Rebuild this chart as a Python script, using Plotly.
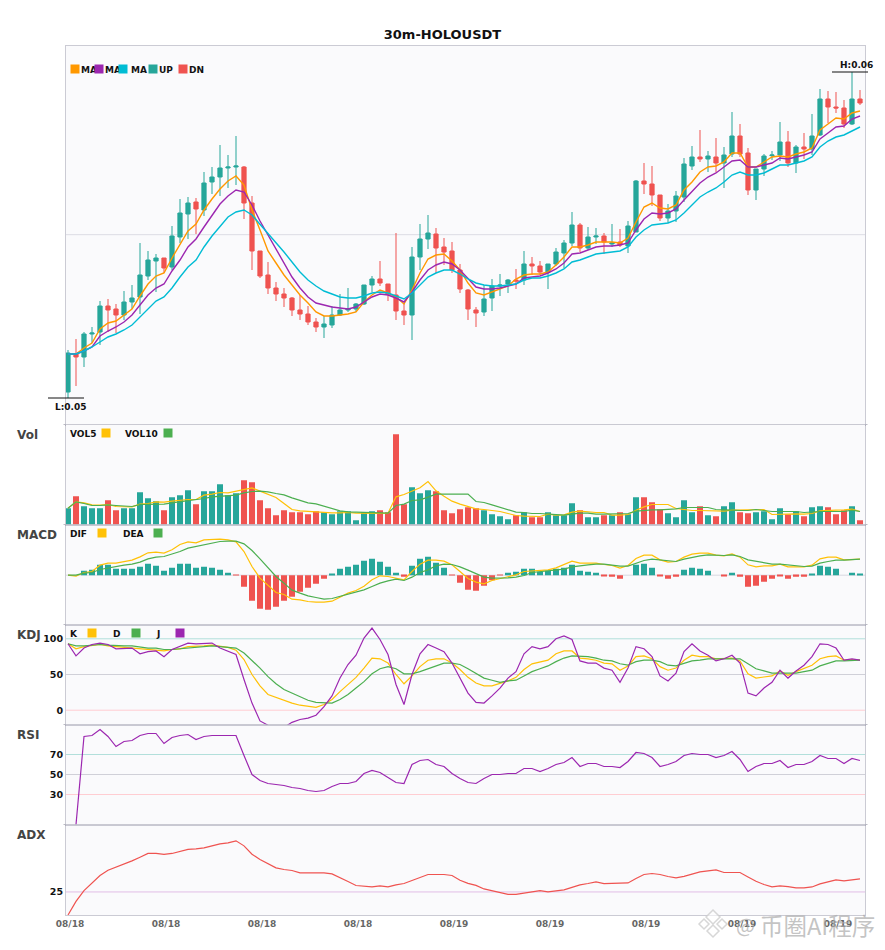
import plotly.graph_objects as go
from plotly.subplots import make_subplots

FIG_WIDTH = 885
FIG_HEIGHT = 950
LEFT, RIGHT, TOP, BOTTOM = 66, 865, 46, 915

UP_COLOR = "#26a69a"
DOWN_COLOR = "#ef5350"
YELLOW = "#ffc107"
GREEN = "#4caf50"
PURPLE = "#9c27b0"
FONT = "DejaVu Sans"

# prices are in 1e-5 USDT
opens = [5028,5142,5133,5202,5208,5286,5277,5259,5298,5313,5376,5421,5430,5403,5493,5562,5598,5574,5658,5673,
         5700,5703,5703,5595,5451,5379,5340,5322,5310,5274,5262,5238,5223,5229,5259,5274,5277,5292,5349,5367,
         5352,5319,5271,5259,5433,5487,5502,5463,5451,5394,5334,5274,5268,5310,5346,5352,5364,5364,5412,5406,
         5388,5412,5445,5475,5529,5460,5493,5496,5472,5478,5466,5508,5661,5652,5619,5550,5571,5613,5706,5733,
         5727,5733,5715,5742,5796,5745,5634,5697,5737,5739,5778,5715,5763,5757,5799,5907,5883,5880,5832,5907]
highs = [5154,5187,5208,5223,5301,5307,5292,5331,5349,5475,5451,5442,5430,5526,5607,5613,5610,5688,5703,5769,
         5739,5796,5706,5616,5451,5418,5358,5340,5313,5319,5286,5250,5256,5286,5322,5340,5295,5349,5376,5421,
         5352,5505,5295,5463,5532,5559,5520,5490,5478,5412,5337,5283,5349,5367,5382,5367,5397,5451,5433,5421,
         5412,5460,5484,5568,5535,5523,5520,5505,5532,5517,5541,5664,5715,5706,5619,5592,5631,5730,5766,5814,
         5751,5790,5763,5868,5832,5760,5697,5742,5751,5838,5811,5769,5805,5862,5937,5931,5928,5904,5988,5934]
lows = [5010,5046,5103,5175,5169,5208,5205,5244,5277,5262,5364,5328,5385,5394,5475,5487,5502,5556,5622,5616,
        5640,5649,5547,5394,5370,5322,5301,5283,5256,5244,5229,5208,5190,5220,5256,5268,5268,5289,5328,5346,
        5301,5244,5229,5184,5394,5457,5385,5409,5385,5325,5244,5223,5256,5271,5316,5325,5337,5349,5379,5379,
        5337,5406,5400,5466,5448,5454,5472,5442,5463,5463,5445,5508,5622,5586,5541,5535,5538,5598,5694,5718,
        5688,5688,5640,5733,5733,5619,5604,5676,5724,5721,5703,5685,5727,5739,5796,5835,5865,5820,5829,5889]
closes = [5145,5133,5202,5205,5286,5274,5259,5298,5310,5379,5424,5430,5400,5496,5565,5595,5577,5655,5673,5700,
          5703,5706,5595,5451,5376,5340,5322,5310,5274,5262,5238,5223,5232,5259,5274,5277,5292,5349,5367,5355,
          5322,5271,5259,5433,5487,5505,5460,5448,5394,5337,5277,5265,5307,5346,5349,5364,5361,5412,5406,5388,
          5412,5448,5475,5529,5460,5493,5496,5478,5475,5469,5526,5661,5652,5619,5550,5571,5616,5712,5733,5727,
          5736,5715,5739,5796,5742,5634,5697,5736,5739,5778,5715,5763,5757,5796,5907,5883,5880,5832,5907,5895]
ma_fast = [5142,5142,5160,5175,5217,5235,5241,5259,5277,5316,5352,5376,5385,5430,5469,5511,5532,5574,5607,5637,
           5661,5676,5649,5574,5514,5451,5415,5379,5349,5319,5295,5268,5256,5256,5259,5262,5268,5298,5319,5334,
           5325,5313,5292,5334,5385,5427,5439,5442,5421,5394,5355,5325,5319,5328,5337,5346,5367,5379,5382,5382,
           5388,5409,5433,5463,5463,5469,5478,5478,5478,5475,5490,5538,5583,5595,5580,5577,5589,5634,5658,5688,
           5703,5706,5718,5745,5745,5703,5703,5718,5733,5736,5733,5742,5748,5760,5814,5832,5850,5847,5865,5871]
ma_mid = [5142,5142,5151,5163,5196,5211,5223,5238,5259,5289,5319,5340,5352,5391,5424,5463,5487,5523,5559,5592,
          5616,5634,5628,5589,5541,5499,5454,5415,5373,5340,5313,5295,5289,5283,5280,5277,5283,5298,5313,5322,
          5319,5310,5298,5328,5364,5394,5409,5418,5412,5394,5370,5343,5337,5337,5340,5346,5352,5370,5373,5376,
          5385,5397,5415,5442,5445,5454,5463,5466,5466,5469,5475,5514,5547,5565,5562,5565,5577,5604,5631,5655,
          5673,5685,5703,5721,5724,5703,5703,5709,5715,5730,5727,5733,5739,5748,5787,5805,5823,5826,5847,5856]
ma_slow = [5142,5142,5151,5163,5178,5193,5202,5214,5229,5253,5280,5301,5313,5340,5373,5403,5424,5463,5496,5526,
           5553,5568,5574,5559,5532,5505,5475,5448,5418,5388,5364,5346,5331,5322,5313,5310,5310,5316,5325,5328,
           5325,5316,5307,5325,5349,5373,5385,5394,5394,5382,5367,5355,5349,5346,5346,5349,5352,5364,5370,5370,
           5376,5385,5397,5418,5424,5433,5442,5445,5448,5451,5463,5493,5514,5529,5532,5535,5544,5565,5589,5613,
           5628,5640,5658,5679,5688,5679,5679,5685,5697,5709,5709,5715,5721,5733,5763,5781,5793,5799,5811,5823]

volume = [49,85,55,49,49,73,43,49,49,97,79,70,43,82,88,103,61,100,100,121,
          88,94,133,127,73,49,28,43,37,37,31,40,37,31,40,40,13,37,40,43,
          37,271,61,112,94,103,100,43,34,46,52,49,43,31,25,16,28,37,22,22,
          37,28,28,64,43,22,22,28,28,37,31,82,82,67,46,34,22,73,37,55,
          28,25,55,67,37,34,37,40,16,49,31,40,25,52,55,52,31,43,55,13]
vol5 = [49,68,65,59,58,60,54,53,53,61,63,68,67,70,73,75,75,88,91,96,
        95,100,106,110,100,91,81,63,45,41,39,37,37,35,35,36,34,33,32,33,
        34,83,90,100,110,129,101,85,70,61,53,47,45,43,39,33,27,25,24,24,
        31,28,29,37,40,37,36,36,28,28,30,43,53,60,60,60,48,45,42,42,
        42,41,40,43,43,43,43,45,30,31,32,32,31,33,41,43,43,44,46,39]
vol10 = [49,68,63,57,57,59,57,56,54,60,61,61,61,65,68,70,73,78,83,84,
         85,88,95,99,100,98,93,89,80,73,65,62,55,47,41,38,37,35,35,34,
         34,57,61,72,74,82,91,91,91,91,91,69,66,59,51,43,37,36,33,33,
         32,30,28,31,34,34,31,31,31,32,33,40,43,44,44,45,47,51,51,51,
         51,45,43,43,42,42,45,41,39,39,39,39,36,38,39,39,39,39,43,39]

macd_hist = [0,0,13,16,31,31,19,19,19,25,34,28,13,22,34,34,22,25,22,16,
             7,-1,-35,-77,-101,-104,-95,-77,-65,-50,-38,-26,-11,4,19,25,31,43,49,40,
             25,7,-5,28,49,55,37,22,-1,-23,-44,-47,-32,-15,-1,7,10,19,19,10,
             13,19,22,31,13,10,7,-2,-5,-11,0,31,34,22,-2,-11,-5,16,22,19,
             13,0,-2,7,-5,-35,-32,-20,-11,-2,-11,-5,-5,4,28,25,19,0,7,4]
dif = [0,-3,8,11,30,36,36,41,45,55,67,69,66,76,92,100,97,106,108,108,
       106,100,71,26,-9,-31,-52,-58,-72,-74,-79,-81,-81,-78,-66,-54,-46,-33,-14,-2,
       -4,-9,-14,11,33,45,45,42,31,11,-10,-21,-26,-16,-10,-4,1,11,13,14,
       16,22,31,42,36,36,36,32,29,21,29,50,60,60,46,39,41,54,63,66,
       66,60,58,64,54,31,25,28,28,33,25,25,25,30,49,54,54,46,48,48]
dea = [0,0,6,8,17,22,26,30,33,39,49,54,56,63,71,81,86,91,95,101,
       102,102,94,74,49,21,-4,-24,-45,-54,-62,-67,-72,-70,-64,-58,-52,-44,-34,-24,
       -17,-12,-16,-6,8,16,28,33,32,25,15,4,-6,-9,-9,-8,-6,-1,8,10,
       12,14,18,25,29,31,33,33,30,27,27,36,44,48,46,43,41,48,54,58,
       61,60,59,61,56,46,41,36,33,33,30,27,26,27,36,41,45,45,46,48]

kdj_k = [93,86,89,91,92,90,89,89,87,86,86,85,83,85,86,89,89,90,91,90,
         88,84,71,50,34,22,18,13,10,7,6,4,8,15,26,36,46,59,73,72,
         66,50,37,48,61,70,72,72,66,57,46,38,34,34,37,41,46,57,65,68,
         70,79,83,83,73,72,70,66,65,56,62,75,76,72,61,56,59,70,77,75,
         75,72,72,73,69,51,45,46,48,55,49,54,58,63,72,75,76,70,71,70]
kdj_d = [93,90,90,91,92,91,90,90,90,88,87,87,85,85,86,87,87,89,90,89,
         88,87,80,70,59,47,37,29,24,18,14,11,10,10,15,22,31,40,51,58,
         61,58,51,51,54,58,62,66,66,64,58,51,45,42,39,41,42,48,54,58,
         62,68,73,76,76,75,73,70,69,65,63,68,70,70,68,63,62,65,69,70,
         72,72,72,72,72,65,58,55,52,52,52,52,54,56,62,66,69,69,70,70]
kdj_j = [93,76,87,92,94,92,86,87,87,79,82,83,75,85,89,94,93,94,94,87,
         83,78,43,10,-15,-21,-24,-24,-17,-13,-11,-7,5,20,45,64,77,101,115,99,
         78,36,8,50,79,92,87,82,66,45,24,11,10,20,31,45,54,79,89,86,
         89,100,104,99,69,66,66,59,56,39,59,89,86,75,48,41,52,82,93,83,
         77,69,72,77,66,24,20,31,39,56,45,55,63,75,93,92,87,70,72,70]

rsi = [None,0,88,89,95,88,78,83,84,89,91,91,81,87,89,90,85,88,89,89,
       89,89,69,50,44,41,40,39,37,36,34,33,34,38,41,41,43,51,54,52,
       47,42,41,60,64,65,60,58,51,46,42,41,46,50,50,51,51,56,56,53,
       56,60,62,67,58,61,61,58,58,57,63,72,71,67,58,60,63,69,71,70,
       70,67,69,73,65,53,58,61,61,64,57,60,60,63,69,66,66,61,66,64]
adx = [13.5,20.3,25.7,29.5,33.2,35.8,37.3,39.2,40.5,42.3,44.2,44.2,43.7,44.2,45.2,46.2,46.5,47,48,49,
       49.5,50.5,48,43.8,41.2,39.2,37,36.2,35.7,34.5,34.5,34.5,34.5,34,32.3,30.2,28.2,28,27.5,28,
       27.5,28.5,29.2,30.7,32.2,33.7,33.7,33.7,33.2,30.8,29.3,28.3,26.5,25.5,24.5,23.8,23.8,24.5,25.2,25.7,
       25,25.5,26,27.3,28.5,29.2,30,29.2,29.2,29.2,29.5,31.7,33.7,34.2,33.7,32.7,32,32.8,34,35,
       35.5,36,34.7,34.7,34.7,32.5,30.3,28.7,27.5,28,27.7,27,27,27.5,29,30,31,30.5,31,31.5]

tick_index = [0, 12, 24, 36, 48, 60, 72, 84, 96]
tick_labels = ["08/18", "08/18", "08/18", "08/18", "08/19", "08/19", "08/19", "08/19", "08/19"]


def px(x: float) -> float:
    """Window pixel to paper x"""
    return (x - LEFT) / (RIGHT - LEFT)


def py(y: float) -> float:
    """Window pixel to paper y"""
    return (BOTTOM - y) / (BOTTOM - TOP)


def add_line(fig, row, values, color, width=1.2):
    x = list(range(len(values)))
    fig.add_trace(go.Scatter(x=x, y=values, mode="lines", line=dict(color=color, width=width), hoverinfo="skip"), row=row, col=1)


def add_label(fig, text, x, y, size=9, color="#111111", anchor="left"):
    fig.add_annotation(xref="paper", yref="paper", x=px(x - 1), y=py(y), text=text, showarrow=False, xanchor=anchor,
                       yanchor="middle", borderpad=0, font=dict(family=FONT, size=size, color=color, weight=700))


def add_swatch(fig, x, y, color):
    fig.add_annotation(xref="paper", yref="paper", x=px(x), y=py(y), text=" ", showarrow=False, xanchor="left",
                       yanchor="middle", width=8, height=8, bgcolor=color, borderpad=0, font=dict(size=1))


def add_logo_diamond(fig, cx, cy, r):
    path = (f"M {px(cx - r)} {py(cy)} L {px(cx)} {py(cy - r)} L {px(cx + r)} {py(cy)} L {px(cx)} {py(cy + r)} Z")
    fig.add_shape(type="path", xref="paper", yref="paper", path=path, fillcolor="rgba(255,255,255,0.6)",
                  line=dict(color="rgba(205,205,205,0.8)", width=1.5))


def create_figure() -> go.Figure:
    fig = make_subplots(rows=6, cols=1, shared_xaxes=True, vertical_spacing=0,
                        row_heights=[378.5, 100, 100, 100, 100, 90.5])
    x = list(range(len(closes)))

    fig.add_trace(go.Candlestick(x=x, open=opens, high=highs, low=lows, close=closes, whiskerwidth=0,
                                 increasing=dict(line=dict(color=UP_COLOR, width=1), fillcolor=UP_COLOR),
                                 decreasing=dict(line=dict(color=DOWN_COLOR, width=1), fillcolor=DOWN_COLOR)), row=1, col=1)
    add_line(fig, 1, ma_fast, "#ff9800", 1.4)
    add_line(fig, 1, ma_mid, PURPLE, 1.4)
    add_line(fig, 1, ma_slow, "#00bcd4", 1.4)

    vol_colors = [UP_COLOR if c >= o else DOWN_COLOR for o, c in zip(opens, closes)]
    fig.add_trace(go.Bar(x=x, y=volume, marker=dict(color=vol_colors, line_width=0)), row=2, col=1)
    add_line(fig, 2, vol5, YELLOW)
    add_line(fig, 2, vol10, GREEN)

    hist_colors = [UP_COLOR if v >= 0 else DOWN_COLOR for v in macd_hist]
    fig.add_trace(go.Bar(x=x, y=macd_hist, marker=dict(color=hist_colors, line_width=0)), row=3, col=1)
    add_line(fig, 3, dif, YELLOW)
    add_line(fig, 3, dea, GREEN)

    add_line(fig, 4, kdj_k, YELLOW)
    add_line(fig, 4, kdj_d, GREEN)
    add_line(fig, 4, kdj_j, PURPLE)
    add_line(fig, 5, rsi, PURPLE)
    add_line(fig, 6, adx, DOWN_COLOR)

    for row, value, color in [(1, 5500, "#dcdce4"), (3, 0, "#d8d8e0"),
                              (4, 100, "#b2dfdb"), (4, 50, "#d0d0d8"), (4, 0, "#ffcdd2"),
                              (5, 70, "#b2dfdb"), (5, 50, "#d0d0d8"), (5, 30, "#ffcdd2"),
                              (6, 25, "#e1bee7")]:
        fig.add_hline(y=value, row=row, col=1, line=dict(color=color, width=1), layer="below")

    fig.update_layout(width=FIG_WIDTH, height=FIG_HEIGHT, showlegend=False, plot_bgcolor="#fafafc", paper_bgcolor="white",
                      margin=dict(l=LEFT, r=FIG_WIDTH - RIGHT, t=TOP, b=FIG_HEIGHT - BOTTOM),
                      bargap=0.25, boxgap=0.25, font=dict(family=FONT),
                      title=dict(text="30m-HOLOUSDT", x=0.5, xanchor="center", y=1 - 34 / FIG_HEIGHT, yanchor="middle",
                                 font=dict(family=FONT, size=13, color="#111111", weight=700)))

    border = "rgba(140,140,160,0.45)"
    fig.update_xaxes(type="linear", range=[-0.25, 99.625], showgrid=False, zeroline=False, rangeslider_visible=False,
                     showline=True, linecolor=border, linewidth=1, mirror=True, ticks="", showticklabels=False)
    fig.update_xaxes(row=6, col=1, showticklabels=True, tickvals=[i + 0.25 for i in tick_index], ticktext=tick_labels, tickangle=0,
                     tickfont=dict(family=FONT, size=9, color="#666666", weight=700))
    fig.update_yaxes(showgrid=False, zeroline=False, showline=True, linecolor=border, linewidth=1, mirror=True, ticks="",
                     showticklabels=False, fixedrange=True)
    tickfont = dict(family=FONT, size=9.5, color="#111111", weight=700)
    fig.update_yaxes(row=1, col=1, range=[4930.5, 6066])
    fig.update_yaxes(row=2, col=1, range=[0, 300])
    fig.update_yaxes(row=3, col=1, range=[-148, 152])
    fig.update_yaxes(row=4, col=1, range=[-20, 120], showticklabels=True, tickvals=[0, 50, 100], tickfont=tickfont)
    fig.update_yaxes(row=5, col=1, range=[0, 100], showticklabels=True, tickvals=[30, 50, 70], tickfont=tickfont)
    fig.update_yaxes(row=6, col=1, range=[13.5, 58.65], showticklabels=True, tickvals=[25], tickfont=tickfont)

    # legends, swatches go after the text so they sit on top of it
    for text, tx in [("MA", 81), ("MA", 105), ("MA", 131), ("UP", 159), ("DN", 189)]:
        add_label(fig, text, tx, 69.5)
    for sx, color in [(70, "#ff9800"), (94, PURPLE), (118, "#00bcd4"), (148, UP_COLOR), (178, DOWN_COLOR)]:
        add_swatch(fig, sx, 69, color)

    for title, y in [("Vol", 435), ("MACD", 535), ("KDJ", 635), ("RSI", 735), ("ADX", 835)]:
        add_label(fig, title, 17, y, size=12, color="#444444")
    for text, tx, sx, y, color in [("VOL5", 70, 101, 433, YELLOW), ("VOL10", 125, 163, 433, GREEN),
                                   ("DIF", 70, 97, 533, YELLOW), ("DEA", 123, 153, 533, GREEN),
                                   ("K", 70, 87, 633, YELLOW), ("D", 113, 131, 633, GREEN), ("J", 156, 175, 633, PURPLE)]:
        add_label(fig, text, tx, y + 1)
        add_swatch(fig, sx, y, color)

    # small stubs where the panels meet
    for y in [424.5, 524.5, 624.5, 724.5, 824.5]:
        for x0, x1 in [(63.5, 65.5), (865.5, 867.5)]:
            fig.add_shape(type="line", xref="paper", yref="paper", x0=px(x0), x1=px(x1), y0=py(y), y1=py(y), line=dict(color="#bbbbc4", width=1))

    # high and low markers stick out of the plot area, so they use paper coordinates
    top = max(highs)
    bottom = min(lows)
    high_y = 6204 / 3 - top / 3
    low_y = 6204 / 3 - bottom / 3
    fig.add_shape(type="line", xref="paper", yref="paper", x0=px(832), x1=px(868), y0=py(high_y), y1=py(high_y), line=dict(color="#111111", width=1))
    fig.add_shape(type="line", xref="paper", yref="paper", x0=px(48), x1=px(84), y0=py(low_y), y1=py(low_y), line=dict(color="#111111", width=1))
    add_label(fig, f"H:{top / 1e5:.2f}", 857, high_y - 7, anchor="center")
    add_label(fig, f"L:{bottom / 1e5:.2f}", 72, low_y + 9, anchor="center")

    # watermark
    for cx, cy, r in [(713, 917, 7), (704, 924, 5), (722, 924, 5), (713, 931, 6)]:
        add_logo_diamond(fig, cx, cy, r)
    for text, right, size in [("@", 757, 20), ("币圈AI程序", 877, 23.5)]:
        fig.add_annotation(xref="paper", yref="paper", x=px(right), y=py(925), text=text, showarrow=False, xanchor="right", yanchor="middle",
                           font=dict(family="Noto Sans CJK SC", size=size, color="rgba(170,170,170,0.7)"))
    return fig


def main() -> None:
    for values in [opens, highs, lows, closes, ma_fast, ma_mid, ma_slow, volume, vol5, vol10, macd_hist, dif, dea, kdj_k, kdj_d, kdj_j, rsi, adx]:
        assert len(values) == 100, len(values)
    fig = create_figure()
    fig.write_html("out.html", config={"displayModeBar": False}, post_script="document.body.style.margin='0'")


if __name__ == "__main__":
    main()
